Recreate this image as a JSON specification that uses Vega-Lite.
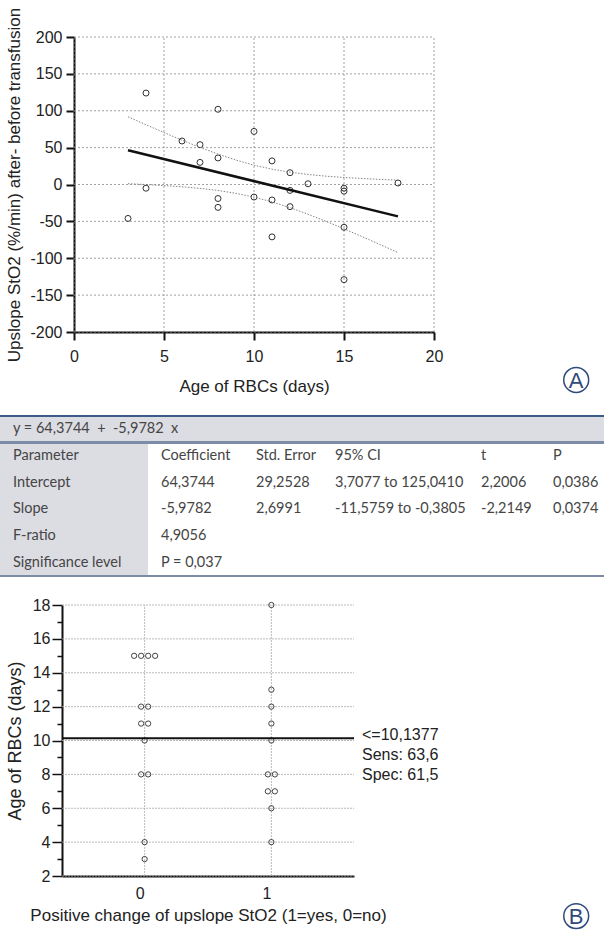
{
  "$schema": "https://vega.github.io/schema/vega-lite/v6.json",
  "width": 604,
  "height": 934,
  "autosize": {"type": "none"},
  "padding": 0,
  "background": "white",
  "config": {
    "view": {"stroke": null},
    "font": "Liberation Sans",
    "axis": {"labelColor": "#222", "titleColor": "#222", "domainColor": "#111", "tickColor": "#111", "titleFontWeight": "normal", "labelFont": "Liberation Sans", "titleFont": "Liberation Sans", "titleLimit": 1000, "grid": false}
  },
  "datasets": {
    "obs": [
      {"age": 3, "upslope": -46, "pos": 0},
      {"age": 4, "upslope": 124, "pos": 1},
      {"age": 4, "upslope": -5, "pos": 0},
      {"age": 6, "upslope": 59, "pos": 1},
      {"age": 7, "upslope": 54, "pos": 1},
      {"age": 7, "upslope": 30, "pos": 1},
      {"age": 8, "upslope": 102, "pos": 1},
      {"age": 8, "upslope": 36, "pos": 1},
      {"age": 8, "upslope": -19, "pos": 0},
      {"age": 8, "upslope": -31, "pos": 0},
      {"age": 10, "upslope": 72, "pos": 1},
      {"age": 10, "upslope": -17, "pos": 0},
      {"age": 11, "upslope": 32, "pos": 1},
      {"age": 11, "upslope": -21, "pos": 0},
      {"age": 11, "upslope": -71, "pos": 0},
      {"age": 12, "upslope": 16, "pos": 1},
      {"age": 12, "upslope": -8, "pos": 0},
      {"age": 12, "upslope": -30, "pos": 0},
      {"age": 13, "upslope": 1, "pos": 1},
      {"age": 15, "upslope": -5, "pos": 0},
      {"age": 15, "upslope": -9, "pos": 0},
      {"age": 15, "upslope": -58, "pos": 0},
      {"age": 15, "upslope": -129, "pos": 0},
      {"age": 18, "upslope": 2, "pos": 1}
    ],
    "fit": [
      {"age": 3, "upslope": 46.4},
      {"age": 18, "upslope": -43.2}
    ],
    "ci": [
      {"age": 3, "hi": 91.8, "lo": 1.1},
      {"age": 4, "hi": 81.0, "lo": -0.1},
      {"age": 5, "hi": 70.4, "lo": -1.5},
      {"age": 6, "hi": 60.1, "lo": -3.1},
      {"age": 7, "hi": 50.3, "lo": -5.3},
      {"age": 8, "hi": 41.2, "lo": -8.1},
      {"age": 9, "hi": 33.1, "lo": -12.0},
      {"age": 10, "hi": 26.2, "lo": -17.1},
      {"age": 11, "hi": 20.8, "lo": -23.6},
      {"age": 12, "hi": 16.7, "lo": -31.4},
      {"age": 13, "hi": 13.6, "lo": -40.3},
      {"age": 14, "hi": 11.3, "lo": -50.0},
      {"age": 15, "hi": 9.5, "lo": -60.1},
      {"age": 16, "hi": 8.1, "lo": -70.6},
      {"age": 17, "hi": 6.9, "lo": -81.4},
      {"age": 18, "hi": 5.9, "lo": -92.3}
    ],
    "gridAx": [{"v": 0}, {"v": 5}, {"v": 10}, {"v": 15}, {"v": 20}],
    "gridAy": [{"v": -200}, {"v": -150}, {"v": -100}, {"v": -50}, {"v": 0}, {"v": 50}, {"v": 100}, {"v": 150}, {"v": 200}],
    "gridBx": [{"v": 0}, {"v": 1}],
    "gridBy": [{"v": 2}, {"v": 4}, {"v": 6}, {"v": 8}, {"v": 10}, {"v": 12}, {"v": 14}, {"v": 16}, {"v": 18}],
    "table": [
      {"c": 0, "r": 0, "t": "y = 64,3744 \u00a0+ \u00a0-5,9782 \u00a0x"},
      {"c": 0, "r": 1, "t": "Parameter"},
      {"c": 1, "r": 1, "t": "Coefficient"},
      {"c": 2, "r": 1, "t": "Std. Error"},
      {"c": 3, "r": 1, "t": "95% CI"},
      {"c": 4, "r": 1, "t": "t"},
      {"c": 5, "r": 1, "t": "P"},
      {"c": 0, "r": 2, "t": "Intercept"},
      {"c": 1, "r": 2, "t": "64,3744"},
      {"c": 2, "r": 2, "t": "29,2528"},
      {"c": 3, "r": 2, "t": "3,7077 to 125,0410"},
      {"c": 4, "r": 2, "t": "2,2006"},
      {"c": 5, "r": 2, "t": "0,0386"},
      {"c": 0, "r": 3, "t": "Slope"},
      {"c": 1, "r": 3, "t": "-5,9782"},
      {"c": 2, "r": 3, "t": "2,6991"},
      {"c": 3, "r": 3, "t": "-11,5759 to -0,3805"},
      {"c": 4, "r": 3, "t": "-2,2149"},
      {"c": 5, "r": 3, "t": "0,0374"},
      {"c": 0, "r": 4, "t": "F-ratio"},
      {"c": 1, "r": 4, "t": "4,9056"},
      {"c": 0, "r": 5, "t": "Significance level"},
      {"c": 1, "r": 5, "t": "P = 0,037"}
    ],
    "cut": [
      {"cut": 10.1377, "label": ["<=10,1377", "Sens: 63,6", "Spec: 61,5"]}
    ],
    "badges": [
      {"panel": "A"}
    ],
    "badgesB": [
      {"panel": "B"}
    ]
  },
  "layer": [
    {
      "layer": [
        {
          "data": {"name": "gridAx"},
          "mark": {"type": "rule", "stroke": "#8a8a8a", "strokeWidth": 0.8, "strokeDash": [2, 2]},
          "encoding": {
            "x": {"field": "v", "type": "quantitative", "scale": {"domain": [0, 20], "range": [74, 434], "nice": false, "zero": false}},
            "y": {"datum": -200, "type": "quantitative", "scale": {"domain": [-200, 200], "range": [332, 37], "nice": false, "zero": false}},
            "y2": {"datum": 200}
          }
        },
        {
          "data": {"name": "gridAy"},
          "mark": {"type": "rule", "stroke": "#8a8a8a", "strokeWidth": 0.8, "strokeDash": [2, 2]},
          "encoding": {
            "y": {"field": "v", "type": "quantitative", "scale": {"domain": [-200, 200], "range": [332, 37], "nice": false, "zero": false}},
            "x": {"datum": 0, "type": "quantitative", "scale": {"domain": [0, 20], "range": [74, 434], "nice": false, "zero": false}},
            "x2": {"datum": 20}
          }
        },
        {
          "data": {"name": "obs"},
          "mark": {"type": "point", "shape": "circle", "filled": false, "size": 36, "stroke": "#333", "strokeWidth": 1, "opacity": 1},
          "encoding": {
            "x": {"field": "age", "type": "quantitative",
              "scale": {"domain": [0, 20], "range": [74, 434], "nice": false, "zero": false},
              "axis": {"orient": "bottom", "offset": -602, "values": [0, 5, 10, 15, 20], "grid": false, "domainWidth": 2, "tickWidth": 2, "tickSize": 8, "labelFontSize": 16, "labelPadding": 8, "labelFlush": false, "labelOverlap": false, "title": "Age of RBCs (days)", "titleFontSize": 17, "titlePadding": 14}},
            "y": {"field": "upslope", "type": "quantitative",
              "scale": {"domain": [-200, 200], "range": [332, 37], "nice": false, "zero": false},
              "axis": {"orient": "left", "offset": -74, "values": [-200, -150, -100, -50, 0, 50, 100, 150, 200], "labelExpr": "replace(datum.label, '\u2212', '-')", "grid": false, "domainWidth": 2, "tickWidth": 2, "tickSize": 8, "labelFontSize": 16, "labelPadding": 4, "labelOverlap": false, "title": "Upslope StO2 (%/min) after- before transfusion", "titleFontSize": 17, "titlePadding": 6}}
          }
        },
        {
          "data": {"name": "ci"},
          "mark": {"type": "line", "stroke": "#777", "strokeWidth": 0.9, "strokeDash": [1.5, 1.5]},
          "encoding": {
            "x": {"field": "age", "type": "quantitative", "scale": {"domain": [0, 20], "range": [74, 434], "nice": false, "zero": false}},
            "y": {"field": "hi", "type": "quantitative", "scale": {"domain": [-200, 200], "range": [332, 37], "nice": false, "zero": false}}
          }
        },
        {
          "data": {"name": "ci"},
          "mark": {"type": "line", "stroke": "#777", "strokeWidth": 0.9, "strokeDash": [1.5, 1.5]},
          "encoding": {
            "x": {"field": "age", "type": "quantitative", "scale": {"domain": [0, 20], "range": [74, 434], "nice": false, "zero": false}},
            "y": {"field": "lo", "type": "quantitative", "scale": {"domain": [-200, 200], "range": [332, 37], "nice": false, "zero": false}}
          }
        },
        {
          "data": {"name": "fit"},
          "mark": {"type": "line", "stroke": "#111", "strokeWidth": 2.5},
          "encoding": {
            "x": {"field": "age", "type": "quantitative", "scale": {"domain": [0, 20], "range": [74, 434], "nice": false, "zero": false}},
            "y": {"field": "upslope", "type": "quantitative", "scale": {"domain": [-200, 200], "range": [332, 37], "nice": false, "zero": false}}
          }
        },
        {
          "data": {"name": "badges"},
          "mark": {"type": "point", "shape": "circle", "filled": false, "size": 620, "stroke": "#2f4b7c", "strokeWidth": 1.5, "opacity": 1},
          "encoding": {
            "x": {"datum": 27.9, "type": "quantitative", "scale": {"domain": [0, 20], "range": [74, 434], "nice": false, "zero": false}},
            "y": {"datum": -265, "type": "quantitative", "scale": {"domain": [-200, 200], "range": [332, 37], "nice": false, "zero": false}}
          }
        },
        {
          "data": {"name": "badges"},
          "mark": {"type": "text", "fontSize": 22, "color": "#2f4b7c", "baseline": "middle", "align": "center", "dy": 1},
          "encoding": {
            "x": {"datum": 27.9, "type": "quantitative", "scale": {"domain": [0, 20], "range": [74, 434], "nice": false, "zero": false}},
            "y": {"datum": -265, "type": "quantitative", "scale": {"domain": [-200, 200], "range": [332, 37], "nice": false, "zero": false}},
            "text": {"field": "panel"}
          }
        },
        {
          "data": {"name": "badgesB"},
          "mark": {"type": "point", "shape": "circle", "filled": false, "size": 620, "stroke": "#2f4b7c", "strokeWidth": 1.5, "opacity": 1},
          "encoding": {
            "x": {"datum": 27.9, "type": "quantitative", "scale": {"domain": [0, 20], "range": [74, 434], "nice": false, "zero": false}},
            "y": {"datum": -992, "type": "quantitative", "scale": {"domain": [-200, 200], "range": [332, 37], "nice": false, "zero": false}}
          }
        },
        {
          "data": {"name": "badgesB"},
          "mark": {"type": "text", "fontSize": 22, "color": "#2f4b7c", "baseline": "middle", "align": "center", "dy": 1},
          "encoding": {
            "x": {"datum": 27.9, "type": "quantitative", "scale": {"domain": [0, 20], "range": [74, 434], "nice": false, "zero": false}},
            "y": {"datum": -992, "type": "quantitative", "scale": {"domain": [-200, 200], "range": [332, 37], "nice": false, "zero": false}},
            "text": {"field": "panel"}
          }
        }
      ]
    },
    {
      "data": {"name": "table"},
      "layer": [
        {
          "mark": {"type": "rect", "fill": "#dcdce3"},
          "encoding": {
            "x": {"datum": 0, "type": "quantitative", "scale": {"domain": [0, 1, 2, 3, 4, 5, 6], "range": [0, 148, 243, 322, 468, 540, 604], "nice": false, "zero": false}, "axis": null},
            "x2": {"datum": 6},
            "y": {"datum": -0.5, "type": "quantitative", "scale": {"domain": [-0.5, 5.5], "range": [416, 576], "nice": false, "zero": false}, "axis": null},
            "y2": {"datum": 0.5}
          }
        },
        {
          "mark": {"type": "rect", "fill": "#dcdce3"},
          "encoding": {
            "x": {"datum": 0, "type": "quantitative", "scale": {"domain": [0, 1, 2, 3, 4, 5, 6], "range": [0, 148, 243, 322, 468, 540, 604], "nice": false, "zero": false}, "axis": null},
            "x2": {"datum": 1},
            "y": {"datum": 0.5, "type": "quantitative", "scale": {"domain": [-0.5, 5.5], "range": [416, 576], "nice": false, "zero": false}, "axis": null},
            "y2": {"datum": 5.5}
          }
        },
        {
          "mark": {"type": "rule", "stroke": "#3b5b88", "strokeWidth": 2},
          "encoding": {
            "x": {"datum": 0, "type": "quantitative", "scale": {"domain": [0, 1, 2, 3, 4, 5, 6], "range": [0, 148, 243, 322, 468, 540, 604], "nice": false, "zero": false}, "axis": null},
            "x2": {"datum": 6},
            "y": {"datum": -0.5, "type": "quantitative", "scale": {"domain": [-0.5, 5.5], "range": [416, 576], "nice": false, "zero": false}, "axis": null}
          }
        },
        {
          "mark": {"type": "rule", "stroke": "#7d8ca6", "strokeWidth": 2},
          "encoding": {
            "x": {"datum": 0, "type": "quantitative", "scale": {"domain": [0, 1, 2, 3, 4, 5, 6], "range": [0, 148, 243, 322, 468, 540, 604], "nice": false, "zero": false}, "axis": null},
            "x2": {"datum": 6},
            "y": {"datum": 0.5, "type": "quantitative", "scale": {"domain": [-0.5, 5.5], "range": [416, 576], "nice": false, "zero": false}, "axis": null}
          }
        },
        {
          "mark": {"type": "rule", "stroke": "#7d8ca6", "strokeWidth": 2},
          "encoding": {
            "x": {"datum": 0, "type": "quantitative", "scale": {"domain": [0, 1, 2, 3, 4, 5, 6], "range": [0, 148, 243, 322, 468, 540, 604], "nice": false, "zero": false}, "axis": null},
            "x2": {"datum": 6},
            "y": {"datum": 5.5, "type": "quantitative", "scale": {"domain": [-0.5, 5.5], "range": [416, 576], "nice": false, "zero": false}, "axis": null}
          }
        },
        {
          "mark": {"type": "text", "font": "Lato", "fontSize": 14.5, "color": "#454545", "align": "left", "baseline": "middle", "dx": 13},
          "encoding": {
            "x": {"field": "c", "type": "quantitative", "scale": {"domain": [0, 1, 2, 3, 4, 5, 6], "range": [0, 148, 243, 322, 468, 540, 604], "nice": false, "zero": false}, "axis": null},
            "y": {"field": "r", "type": "quantitative", "scale": {"domain": [-0.5, 5.5], "range": [416, 576], "nice": false, "zero": false}, "axis": null},
            "text": {"field": "t"}
          }
        }
      ]
    },
    {
      "layer": [
        {
          "data": {"name": "gridBy"},
          "mark": {"type": "rule", "stroke": "#aaa", "strokeWidth": 0.8, "strokeDash": [2, 1]},
          "encoding": {
            "y": {"field": "v", "type": "quantitative", "scale": {"domain": [2, 18], "range": [876, 605], "nice": false, "zero": false}},
            "x": {"datum": 0, "type": "ordinal", "bandPosition": -0.152, "scale": {"type": "band", "domain": [0, 1], "range": [62, 354], "paddingInner": 0, "paddingOuter": 0.152}},
            "x2": {"datum": 1, "bandPosition": 1.152}
          }
        },
        {
          "data": {"name": "gridBx"},
          "mark": {"type": "rule", "stroke": "#aaa", "strokeWidth": 0.8, "strokeDash": [2, 1]},
          "encoding": {
            "x": {"field": "v", "type": "ordinal", "bandPosition": 0.5, "scale": {"type": "band", "domain": [0, 1], "range": [62, 354], "paddingInner": 0, "paddingOuter": 0.152}},
            "y": {"datum": 2, "type": "quantitative", "scale": {"domain": [2, 18], "range": [876, 605], "nice": false, "zero": false}},
            "y2": {"datum": 18}
          }
        },
        {
          "data": {"name": "obs"},
          "transform": [
            {"window": [{"op": "row_number", "as": "k"}], "groupby": ["pos", "age"]},
            {"joinaggregate": [{"op": "count", "as": "n"}], "groupby": ["pos", "age"]},
            {"calculate": "datum.k - (datum.n + 1) / 2", "as": "off"}
          ],
          "mark": {"type": "point", "shape": "circle", "filled": false, "size": 28, "stroke": "#444", "strokeWidth": 1, "opacity": 1},
          "encoding": {
            "x": {"field": "pos", "type": "ordinal",
              "scale": {"type": "band", "domain": [0, 1], "range": [62, 354], "paddingInner": 0, "paddingOuter": 0.152},
              "axis": {"orient": "bottom", "offset": -58, "ticks": false, "grid": false, "domainWidth": 2, "labelAngle": 0, "labelFontSize": 16, "labelPadding": 17, "title": "Positive change of upslope StO2 (1=yes, 0=no)", "titleFontSize": 17, "titlePadding": 6}},
            "xOffset": {"field": "off", "type": "quantitative", "scale": {"domain": [-9.05, 9.05]}},
            "y": {"field": "age", "type": "quantitative",
              "scale": {"domain": [2, 18], "range": [876, 605], "nice": false, "zero": false},
              "axis": {"orient": "left", "offset": -62, "values": [2, 3, 4, 5, 6, 7, 8, 9, 10, 11, 12, 13, 14, 15, 16, 17, 18], "format": "d", "labelExpr": "datum.value % 2 ? '' : datum.label", "tickSize": {"condition": {"test": "datum.value % 2 == 1", "value": 5}, "value": 10}, "grid": false, "domainWidth": 2, "tickWidth": 1.5, "labelFontSize": 16, "labelPadding": 2, "labelOverlap": false, "title": "Age of RBCs (days)", "titleFontSize": 18, "titlePadding": 8}}
          }
        },
        {
          "data": {"name": "cut"},
          "mark": {"type": "rule", "stroke": "#111", "strokeWidth": 2},
          "encoding": {
            "x": {"datum": 0, "type": "ordinal", "bandPosition": -0.152, "scale": {"type": "band", "domain": [0, 1], "range": [62, 354], "paddingInner": 0, "paddingOuter": 0.152}},
            "x2": {"datum": 1, "bandPosition": 1.152},
            "y": {"field": "cut", "type": "quantitative", "scale": {"domain": [2, 18], "range": [876, 605], "nice": false, "zero": false}}
          }
        },
        {
          "data": {"name": "cut"},
          "mark": {"type": "text", "fontSize": 16, "color": "#222", "align": "left", "baseline": "top", "lineHeight": 20, "dx": 8, "dy": -11},
          "encoding": {
            "x": {"datum": 1, "type": "ordinal", "bandPosition": 1.152, "scale": {"type": "band", "domain": [0, 1], "range": [62, 354], "paddingInner": 0, "paddingOuter": 0.152}},
            "y": {"field": "cut", "type": "quantitative", "scale": {"domain": [2, 18], "range": [876, 605], "nice": false, "zero": false}},
            "text": {"field": "label"}
          }
        }
      ]
    }
  ],
  "resolve": {"scale": {"x": "independent", "y": "independent"}, "axis": {"x": "independent", "y": "independent"}}
}
